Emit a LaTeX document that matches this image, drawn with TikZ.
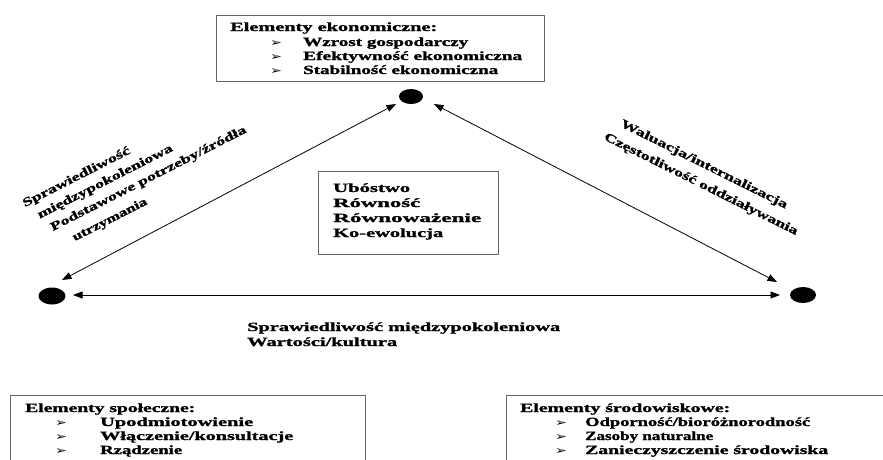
\documentclass[tikz,border=0pt]{standalone}
\usepackage{fontspec}
\usepackage{graphicx}
\setmainfont{Liberation Serif}[BoldFeatures={FakeBold=1.2}]
\newfontfamily\dvf{DejaVu Sans}
\newcommand\fw[2]{\resizebox{#1pt}{\height}{#2}}
\usetikzlibrary{shapes.geometric,arrows.meta,calc}
\tikzset{
  boxf/.style={draw=gray!80!black, line width=0.8pt},
  dotn/.style={ellipse, fill=black, inner sep=0pt, minimum width=26pt, minimum height=16pt},
  txt/.style={font=\bfseries\fontsize{12.5}{14}\selectfont, inner sep=0pt, anchor=base west},
  rtxt/.style={inner sep=0pt, anchor=center, align=left},
  bul/.style={font=\dvf\fontsize{11}{12}\selectfont, inner sep=0pt, anchor=base west},
  conn/.style={{Triangle[length=9.5pt,width=7pt]}-{Triangle[length=9.5pt,width=7pt]}, line width=0.8pt}
}
\begin{document}
\begin{tikzpicture}[x=1pt,y=-1pt]
\path[use as bounding box, clip] (0,0) rectangle (883,459);
% boxes
\draw[boxf] (216,15) rectangle (544,81);
\draw[boxf] (318,171) rectangle (498,254);
\draw[boxf] (10,395) rectangle (365,470);
\draw[boxf] (506,395) rectangle (900,470);
% dots
\node[dotn, minimum width=24pt, minimum height=15pt] (T) at (411,96.5) {};
\node[dotn, minimum width=27pt, minimum height=17pt] (L) at (52,296) {};
\node[dotn] (R) at (803,295) {};
% connectors
\draw[conn] ($(L.center)+(10,-16)$) -- ($(T.center)+(-15,7.5)$);
\draw[conn] ($(T.center)+(23,7.5)$) -- ($(R.center)+(-26,-13)$);
\draw[conn] ($(L.center)+(21,-1)$) -- ($(R.center)+(-23,0)$);
% top box text
\node[txt] (t0) at (230,31) {\fw{207}{Elementy ekonomiczne:}};
\node[bul] (tb1) at (270,46) {\fw{12}{➢}};
\node[txt] (t1) at (303,46) {\fw{165}{Wzrost gospodarczy}};
\node[bul] (tb2) at (270,60) {\fw{12}{➢}};
\node[txt] (t2) at (303,60) {\fw{219}{Efektywność ekonomiczna}};
\node[bul] (tb3) at (270,74) {\fw{12}{➢}};
\node[txt] (t3) at (303,74) {\fw{195}{Stabilność ekonomiczna}};
% center box
\node[txt] (c1) at (333,192) {\fw{77}{Ubóstwo}};
\node[txt] (c2) at (333,207) {\fw{87}{Równość}};
\node[txt] (c3) at (333,222) {\fw{148}{Równoważenie}};
\node[txt] (c4) at (333,237) {\fw{110}{Ko-ewolucja}};
% bottom middle text
\node[txt] (m1) at (247,331) {\fw{313}{Sprawiedliwość międzypokoleniowa}};
\node[txt] (m2) at (247,346) {\fw{150}{Wartości/kultura}};
% left rotated label
\node[rtxt, rotate=27, font=\bfseries\fontsize{12}{17}\selectfont] (lt) at (139,175.5)
  {\fw{119}{Sprawiedliwość}\\
   \hspace*{8pt}\fw{150}{międzypokoleniowa}\\
   \hspace*{14pt}\fw{218}{Podstawowe potrzeby/źródła}\\[2pt]
   \hspace*{29pt}\fw{82}{utrzymania}};
% right rotated label
\node[rtxt, rotate=-26.5, font=\bfseries\fontsize{12}{19}\selectfont] (rt) at (705,176)
  {\hspace*{9pt}\fw{185}{Waluacja/internalizacja}\\
   \fw{215}{Częstotliwość oddziaływania}};
% bottom left box
\node[txt] (s0) at (25,412) {\fw{170}{Elementy społeczne:}};
\node[bul] (sb1) at (55,426) {\fw{12}{➢}};
\node[txt] (s1) at (100,426) {\fw{153}{Upodmiotowienie}};
\node[bul] (sb2) at (55,440) {\fw{12}{➢}};
\node[txt] (s2) at (100,440) {\fw{193}{Włączenie/konsultacje}};
\node[bul] (sb3) at (55,454) {\fw{12}{➢}};
\node[txt] (s3) at (100,454) {\fw{82}{Rządzenie}};
% bottom right box
\node[txt] (e0) at (520,412) {\fw{210}{Elementy środowiskowe:}};
\node[bul] (eb1) at (555,426) {\fw{12}{➢}};
\node[txt] (e1) at (585,426) {\fw{225}{Odporność/bioróżnorodność}};
\node[bul] (eb2) at (555,440) {\fw{12}{➢}};
\node[txt] (e2) at (585,440) {\fw{128}{Zasoby naturalne}};
\node[bul] (eb3) at (555,454) {\fw{12}{➢}};
\node[txt] (e3) at (585,454) {\fw{243}{Zanieczyszczenie środowiska}};
\end{tikzpicture}
\end{document}
